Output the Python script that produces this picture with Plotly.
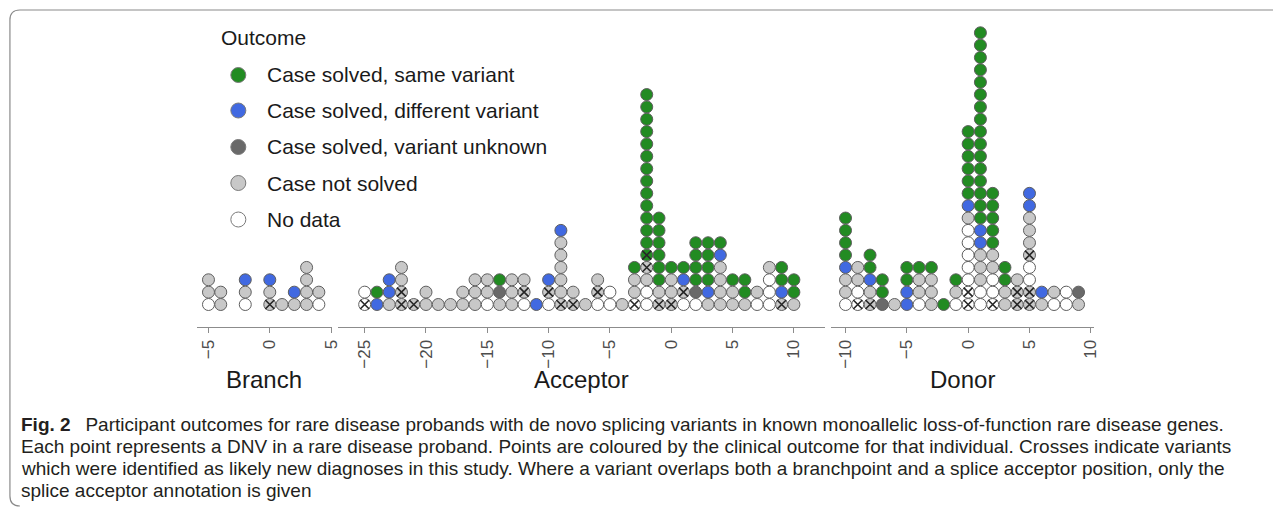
import plotly.graph_objects as go

W, H = 1282, 508

# Outcome codes: S = case solved, same variant; F = case solved, different variant;
# U = case solved, variant unknown; N = case not solved; W = no data.
# A trailing "x" marks a variant identified as a likely new diagnosis (cross).
outcome_codes = ["S", "F", "U", "N", "W"]
outcome_labels = ["Case solved, same variant", "Case solved, different variant",
                  "Case solved, variant unknown", "Case not solved", "No data"]
outcome_colors = ["#228B22", "#4169E1", "#696969", "#C8C8C8", "#FFFFFF"]

# Each stack lists the points at a position, from the bottom up
branch_pos = [-5, -4, -2, 0, 1, 2, 3, 4]
branch_stacks = ["W N N", "N N", "W N F", "Nx N F", "N", "N F", "N N N N", "W N"]

acceptor_pos = [-25, -24, -23, -22, -21, -20, -19, -18, -17, -16, -15, -14, -13, -12,
                -11, -10, -9, -8, -7, -6, -5, -4, -3, -2, -1, 0, 1, 2, 3, 4, 5, 6, 7,
                8, 9, 10]
acceptor_stacks = [
    "Wx W", "F S", "N F F", "Nx Nx N N", "Nx", "N N", "N", "N", "N N", "N N N",
    "W N N", "N U S", "N N N", "W Nx N", "F", "W Nx F", "Nx N N N N N F", "Nx N",
    "N", "W Nx N", "W W", "N", "Wx N N S",
    "W W N Nx Sx S S S S S S S S S S S S S",
    "Nx N S S S S S S", "Nx N N S", "W Nx F S", "W U S S S S", "N F S S S S",
    "N N N N F S", "N N S", "N S S", "W N", "W W W N", "Nx F S S", "N S S",
]

donor_pos = [-10, -9, -8, -7, -6, -5, -4, -3, -2, -1, 0, 1, 2, 3, 4, 5, 6, 7, 8, 9]
donor_stacks = [
    "W N N F S S S S", "Wx W N N", "Nx N F S S", "U S S", "N", "F F S S",
    "W N N S", "N N N S", "S", "W N S",
    "Wx Wx W W W W W N F S S S S S S",
    "W W N N N F F S S S S S S S S S S S S S S S S",
    "Wx W W N N S S S S S", "N N S S", "Nx Nx N", "Nx Nx W W Nx N N N F F",
    "N F", "W N", "W W", "N U",
]

facet_names = ["Branch", "Acceptor", "Donor"]
branch_ticks = [-5, 0, 5]
acceptor_ticks = [-25, -20, -15, -10, -5, 0, 5, 10]
donor_ticks = [-10, -5, 0, 5, 10]

caption_lines = [
    "<b>Fig. 2</b>\u2002 Participant outcomes for rare disease probands with de novo splicing variants in known monoallelic loss-of-function rare disease genes.",
    "Each point represents a DNV in a rare disease proband. Points are coloured by the clinical outcome for that individual. Crosses indicate variants",
    "which were identified as likely new diagnoses in this study. Where a variant overlaps both a branchpoint and a splice acceptor position, only the",
    "splice acceptor annotation is given",
]

# ---------------- layout geometry (pixels) ----------------
U = 12.35            # pixels per unit, both directions
ROW1 = 304.5         # pixel y of first stacked row
AXIS_Y = 327         # pixel y of the x axis line
TOP_Y = 20
panel_geo = [
    dict(zero=271.7, left=198, right=334),
    dict(zero=676.0, left=340, right=831),
    dict(zero=975.0, left=837, right=1102),
]

fig = go.Figure()
panel_data = [(branch_pos, branch_stacks, branch_ticks),
              (acceptor_pos, acceptor_stacks, acceptor_ticks),
              (donor_pos, donor_stacks, donor_ticks)]

for i, (pos, stacks, ticks) in enumerate(panel_data):
    ax = "x" if i == 0 else f"x{i+1}"
    pts = {c: ([], []) for c in outcome_codes}
    cross_x, cross_y = [], []
    for p, s in zip(pos, stacks):
        for lvl, tok in enumerate(s.split(), start=1):
            code = tok[0]
            pts[code][0].append(p)
            pts[code][1].append(lvl)
            if tok.endswith("x"):
                cross_x.append(p)
                cross_y.append(lvl)
    for code, col in zip(outcome_codes, outcome_colors):
        xs, ys = pts[code]
        if not xs:
            continue
        fig.add_trace(go.Scatter(
            x=xs, y=ys, xaxis=ax, yaxis="y", mode="markers",
            marker=dict(size=12, color=col, line=dict(color="#5e5e5e", width=1)),
            showlegend=False, hoverinfo="skip", cliponaxis=False))
    if cross_x:
        fig.add_trace(go.Scatter(
            x=cross_x, y=cross_y, xaxis=ax, yaxis="y", mode="markers",
            marker=dict(size=9, symbol="x-thin-open", color="#262626",
                        line=dict(color="#262626", width=1.6)),
            showlegend=False, hoverinfo="skip", cliponaxis=False))

    g = panel_geo[i]
    key = "xaxis" if i == 0 else f"xaxis{i+1}"
    fig.layout[key] = dict(
        domain=[g["left"] / W, g["right"] / W],
        range=[(g["left"] - g["zero"]) / U, (g["right"] - g["zero"]) / U],
        anchor="y", showline=True, linecolor="#8c8c8c", linewidth=1.2,
        ticks="outside", ticklen=5, tickcolor="#8c8c8c", tickwidth=1.2,
        tickvals=ticks, tickangle=-90, showgrid=False, zeroline=False,
        tickfont=dict(family="Liberation Sans, Arial", size=17, color="#4d4d4d"),
        fixedrange=True)
    fig.add_annotation(
        text=facet_names[i], xref="paper", yref="paper",
        x=(g["left"] + g["right"]) / 2 / W, y=1 - 379 / H,
        xanchor="center", yanchor="middle", showarrow=False,
        font=dict(family="Liberation Sans, Arial", size=24, color="#1a1a1a"))

fig.update_layout(yaxis=dict(
    domain=[1 - AXIS_Y / H, 1 - TOP_Y / H],
    range=[1 - (AXIS_Y - ROW1) / U, 1 + (ROW1 - TOP_Y) / U],
    visible=False, fixedrange=True))

# pixel overlay axis for legend and frame
fig.update_layout(
    xaxis4=dict(domain=[0, 1], range=[0, W], visible=False, anchor="y4", fixedrange=True),
    yaxis4=dict(domain=[0, 1], range=[H, 0], visible=False, anchor="x4", fixedrange=True),
)

# Legend
leg_rows = [75, 110.5, 147, 183, 219.5]
fig.add_trace(go.Scatter(
    x=[240] * len(outcome_codes), y=leg_rows, xaxis="x4", yaxis="y4", mode="markers",
    marker=dict(size=15, color=outcome_colors, line=dict(color="#7a7a7a", width=1)),
    showlegend=False, hoverinfo="skip", cliponaxis=False))
fig.add_annotation(text="Outcome", xref="paper", yref="paper", x=221 / W, y=1 - 38 / H,
                   xanchor="left", yanchor="middle", showarrow=False,
                   font=dict(family="Liberation Sans, Arial", size=21, color="#1a1a1a"))
for lab, yy in zip(outcome_labels, leg_rows):
    fig.add_annotation(text=lab, xref="paper", yref="paper", x=267 / W, y=1 - yy / H,
                       xanchor="left", yanchor="middle", showarrow=False,
                       font=dict(family="Liberation Sans, Arial", size=21, color="#1a1a1a"))

# Caption
cap_y = [424, 446, 468, 490]
for line, yy in zip(caption_lines, cap_y):
    fig.add_annotation(text=line, xref="paper", yref="paper", x=19 / W, y=1 - yy / H,
                       xanchor="left", yanchor="middle", showarrow=False,
                       font=dict(family="Liberation Sans, Arial", size=19, color="#231f20"))

# Frame
fig.add_shape(type="path", xref="x4", yref="y4",
              path=f"M {W} 10 L 20 10 Q 10 10 10 20 L 10 496 Q 10 506 20 506",
              line=dict(color="#8a8a8a", width=1.2))

fig.update_layout(width=W, height=H, autosize=False,
                  margin=dict(l=0, r=0, t=0, b=0),
                  paper_bgcolor="white", plot_bgcolor="rgba(0,0,0,0)", showlegend=False)

fig.write_html("out.html", config={"displayModeBar": False},
               post_script="document.body.style.margin='0px';document.body.style.overflow='hidden';")
